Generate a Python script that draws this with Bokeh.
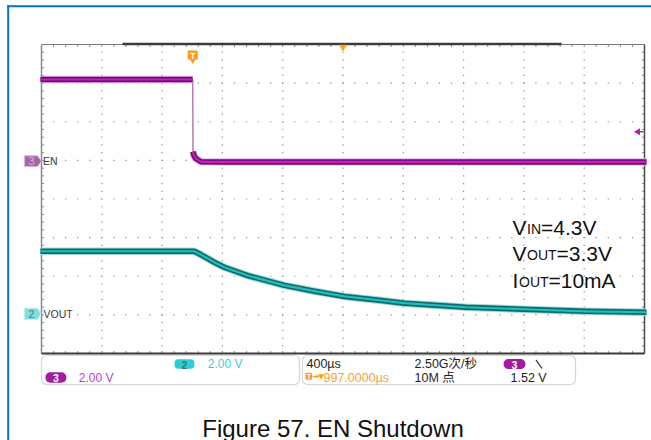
import numpy as np
from bokeh.plotting import figure
from bokeh.models import Range1d, Label, BoxAnnotation
from bokeh.embed import file_html
from bokeh.resources import INLINE

# ---------------- data ----------------
time_per_div_us = 400.0       # 400 µs/div
volts_per_div = 2.0           # both channels 2.00 V/div
trigger_delay_us = 997.0      # trigger -> screen centre
trigger_level_v = 1.52        # CH3 falling-edge trigger level

# CH3 (EN), volts vs time from trigger (µs)
en_t = [-1010, -1, 0, 2, 8, 20, 55, 200, 3010]
en_v = [4.23, 4.23, 4.23, 0.50, 0.30, 0.14, -0.03, -0.04, -0.04]

# CH2 (VOUT), volts vs time from trigger (µs)
vout_t = [-1010, 0, 10, 50, 100, 143, 209, 365, 608, 808, 1007, 1251,
          1406, 1812, 2293, 2603, 3010]
vout_v = [3.24, 3.24, 3.24, 3.08, 2.86, 2.67, 2.41, 1.98, 1.47, 1.17, 0.90,
          0.69, 0.55, 0.34, 0.21, 0.13, 0.08]

caption = "Figure 57. EN Shutdown"
status_ch2 = "2.00 V"
status_ch3 = "2.00 V"
status_time = "400µs"
status_delay = "997.0000µs"
status_rate = "2.50G次/秒"
status_points = "10M 点"
status_trig = "1.52 V"

# ---------------- layout (page pixels, y downwards) ----------------
W, H = 651, 440
GX0, GX1 = 41.0, 644.0
GY0, GY1 = 44.0, 353.0
NDX, NDY = 10, 8
DW = (GX1 - GX0) / NDX
DH = (GY1 - GY0) / NDY
CH3_GND = 160.7
CH2_GND = 313.3

px_per_us = DW / time_per_div_us
px_per_v = DH / volts_per_div
t_left = trigger_delay_us - NDX / 2 * time_per_div_us

FONT = "Liberation Sans, Noto Sans CJK SC"

p = figure(width=W, height=H, output_backend="svg", toolbar_location=None,
           x_axis_type=None, y_axis_type=None,
           x_range=Range1d(0, W), y_range=Range1d(H, 0),
           min_border=0, outline_line_color=None,
           background_fill_color="white", border_fill_color="white")
p.xgrid.visible = False
p.ygrid.visible = False

p.extra_x_ranges = {"t": Range1d(t_left - GX0 / px_per_us,
                                 t_left + (W - GX0) / px_per_us)}
p.extra_y_ranges = {
    "v3": Range1d((CH3_GND - H) / px_per_v, CH3_GND / px_per_v),
    "v2": Range1d((CH2_GND - H) / px_per_v, CH2_GND / px_per_v),
}

# page border lines (blue)
p.line([7.7, 7.7], [4.7, H], line_color="#0b6fbe", line_width=2)
p.line([6.7, W], [5.7, 5.7], line_color="#0b6fbe", line_width=2)

# ---------------- graticule ----------------
kx = np.arange(1, NDX * 5)
ky = np.arange(1, NDY * 5)
vx, vy = np.meshgrid(GX0 + np.arange(1, NDX) * DW, GY0 + ky * DH / 5)
hx, hy = np.meshgrid(GX0 + kx * DW / 5, GY0 + np.arange(1, NDY) * DH)
dx = np.concatenate([vx.ravel(), hx.ravel()])
dy = np.concatenate([vy.ravel(), hy.ravel()])
p.rect(dx, dy, width=1.2, height=1.2, fill_color="#8c8c8c", line_color=None)

tx = GX0 + kx * DW / 5
ty = GY0 + ky * DH / 5
p.segment(tx, GY0, tx, GY0 + 2.5, line_color="#8a8a8a", line_width=1)
p.segment(tx, GY1, tx, GY1 - 2.5, line_color="#8a8a8a", line_width=1)
p.segment(GX0, ty, GX0 + 2.5, ty, line_color="#8a8a8a", line_width=1)
p.segment(GX1, ty, GX1 - 2.5, ty, line_color="#8a8a8a", line_width=1)

p.line([GX0, GX1], [GY0, GY0], line_color="#7a7a7a", line_width=1)
p.line([122, 561], [GY0 - 0.5, GY0 - 0.5], line_color="#3c3c3c", line_width=2.5)
p.line([GX0, GX0], [GY0, GY1], line_color="#8a8a8a", line_width=1.5)
p.line([GX1, GX1], [GY0, GY1], line_color="#4a4a4a", line_width=1.5)
p.line([GX0, GX1], [GY1, GY1], line_color="#3a3a3a", line_width=2)

# ---------------- traces ----------------
en_t_a = np.array(en_t, dtype=float)
en_v_a = np.array(en_v, dtype=float)
hi = en_t_a <= 0
lo = en_t_a >= 2
p.line(en_t_a, en_v_a, x_range_name="t", y_range_name="v3",
       line_color="#b57ab5", line_width=1.5)
for m in (hi, lo):
    p.line(en_t_a[m], en_v_a[m], x_range_name="t", y_range_name="v3",
           line_color="#e2bde2", line_width=7.5, line_join="round")
    p.line(en_t_a[m], en_v_a[m], x_range_name="t", y_range_name="v3",
           line_color="#6c0a6c", line_width=5.5, line_join="round")
    p.line(en_t_a[m], en_v_a[m], x_range_name="t", y_range_name="v3",
           line_color="#c41ec4", line_width=2.2, line_join="round")

p.line(vout_t, vout_v, x_range_name="t", y_range_name="v2",
       line_color="#a6d8d8", line_width=7.5, line_join="round")
p.line(vout_t, vout_v, x_range_name="t", y_range_name="v2",
       line_color="#0b6c6c", line_width=5.5, line_join="round")
p.line(vout_t, vout_v, x_range_name="t", y_range_name="v2",
       line_color="#22bcbc", line_width=2.2, line_join="round")

# ---------------- markers ----------------
p.rect([0], [54.5], width=10, height=9, x_range_name="t",
       width_units="screen", fill_color="#ff9a1a", line_color=None)
p.scatter([0], [60.0], x_range_name="t", marker="inverted_triangle", size=6,
          fill_color="#ff9a1a", line_color=None)
p.add_layout(Label(x=0, y=55, x_range_name="t", text="T", text_color="white",
                   text_font=FONT, text_font_size="9px", text_font_style="bold",
                   text_align="center", text_baseline="middle"))
p.scatter([trigger_delay_us], [GY0 + 2.5], x_range_name="t",
          marker="inverted_triangle", size=8, fill_color="#ffa21f", line_color=None)

p.scatter([637.5], [trigger_level_v], y_range_name="v3", marker="triangle",
          angle=np.pi / 2, size=7, fill_color="#b01cb0", line_color=None)
p.line([637, 643], [trigger_level_v, trigger_level_v], y_range_name="v3",
       line_color="#b01cb0", line_width=1.5)

p.patch([24, 37, 41, 37, 24], [0.28, 0.28, 0, -0.28, -0.28], y_range_name="v3",
        fill_color="#9c6c9c", line_color="#f2a8f2", line_width=1)
p.add_layout(Label(x=31, y=0, y_range_name="v3", text="3", text_color="#dcaedc",
                   text_font=FONT, text_font_size="11px", text_align="center",
                   text_baseline="middle"))
p.patch([24, 37, 40.5, 37, 24], [0.29, 0.29, 0, -0.29, -0.29], y_range_name="v2",
        fill_color="#84dede", line_color="#b4f2f2", line_width=1)
p.add_layout(Label(x=31, y=0, y_range_name="v2", text="2", text_color="#4f7f7f",
                   text_font=FONT, text_font_size="11px", text_align="center",
                   text_baseline="middle"))
p.add_layout(Label(x=42.5, y=0.0, y_range_name="v3", text="EN", text_color="#3a3a3a",
                   text_font=FONT, text_font_size="10.5px", text_baseline="middle"))
p.add_layout(Label(x=43, y=0.0, y_range_name="v2", text="VOUT", text_color="#3a3a3a",
                   text_font=FONT, text_font_size="10.5px", text_baseline="middle"))

# ---------------- test-condition annotation ----------------
lines = [("V", "IN", "=4.3V", 227.3, 512.0, 526.5, 540.5),
         ("V", "OUT", "=3.3V", 253.3, 512.0, 526.5, 556.0),
         ("I", "OUT", "=10mA", 280.0, 512.0, 518.5, 548.0)]
for main, sub, rest, base, x0, x1, x2 in lines:
    p.add_layout(Label(x=x0, y=base, text=main, text_font=FONT, text_font_size="21px",
                       text_color="#111111", text_baseline="alphabetic"))
    p.add_layout(Label(x=x1, y=base + 1.5, text=sub, text_font=FONT, text_font_size="14px",
                       text_color="#111111", text_baseline="alphabetic"))
    p.add_layout(Label(x=x2, y=base, text=rest, text_font=FONT, text_font_size="21px",
                       text_color="#111111", text_baseline="alphabetic"))

# ---------------- status bar ----------------
for l, r in ((41, 299), (302, 575)):
    p.add_layout(BoxAnnotation(left=l, right=r, top=355, bottom=384, border_radius=5,
                               fill_color=None, line_color="#7c7c7c", line_width=1.2))


def badge(cx, cy, w, h, fill, txt, tcol):
    p.add_layout(BoxAnnotation(left=cx - w / 2, right=cx + w / 2, top=cy - h / 2,
                               bottom=cy + h / 2, border_radius=int(h // 2), fill_color=fill,
                               fill_alpha=1, line_color=None))
    p.add_layout(Label(x=cx, y=cy + 0.5, text=txt, text_color=tcol, text_font=FONT,
                       text_font_size="10.5px", text_font_style="bold",
                       text_align="center", text_baseline="middle"))


def stat(x, y, txt, col, size="12px"):
    p.add_layout(Label(x=x, y=y, text=txt, text_color=col, text_font=FONT,
                       text_font_size=size, text_baseline="middle"))


badge(184, 363.6, 20, 9.5, "#26d0d8", "2", "#4a6e6e")
stat(207.3, 363.6, status_ch2, "#38cde0")
badge(55.4, 377, 21, 10.5, "#a11ca1", "3", "white")
stat(78.3, 377, status_ch3, "#c03cc8")

stat(306, 363.4, status_time, "#1e1e1e", "12.5px")
# trigger-delay symbol: T box, arrow, down triangle
p.add_layout(BoxAnnotation(left=305, right=311.5, top=372.3, bottom=379.3, border_radius=1,
                           fill_color="#ff9a1a", fill_alpha=1, line_color=None))
p.add_layout(Label(x=308.3, y=376, text="T", text_color="white", text_font=FONT,
                   text_font_size="7px", text_font_style="bold", text_align="center",
                   text_baseline="middle"))
p.segment([312], [376], [316], [376], line_color="#ff9a1a", line_width=1.3)
p.scatter([316.5], [376], marker="triangle", angle=-np.pi / 2, size=4,
          fill_color="#ff9a1a", line_color=None)
p.scatter([320.5], [375.5], marker="inverted_triangle", size=6,
          fill_color="#ff9a1a", line_color=None)
stat(323, 377, status_delay, "#ffa030", "12.5px")
stat(414, 363.4, status_rate, "#1e1e1e", "12.5px")
stat(414, 377, status_points, "#1e1e1e", "12.5px")
badge(514, 363.6, 22, 10, "#a11ca1", "3", "white")
p.segment([535.5], [359.5], [541.5], [368], line_color="#2a2a2a", line_width=1.3)
stat(510, 377, status_trig, "#1e1e1e", "12.5px")

# ---------------- caption ----------------
p.add_layout(Label(x=332.5, y=427.5, text=caption, text_font=FONT, text_font_size="24px",
                   text_color="#111111", text_align="center", text_baseline="alphabetic"))

open("out.html", "w").write(file_html(p, INLINE))
